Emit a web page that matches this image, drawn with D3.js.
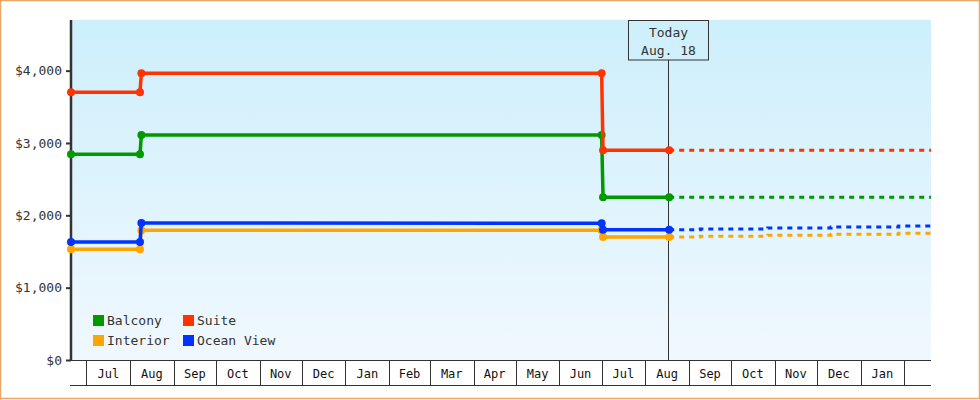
<!DOCTYPE html>
<html>
<head>
<meta charset="utf-8">
<script src="https://cdn.jsdelivr.net/npm/d3@7"></script>
<style>
body { margin: 0; background: #fff; }
svg { display: block; }
</style>
</head>
<body>
<div id="chart"></div>
<script>
// price history (solid) and forecast (dashed), one array per cabin
const historyDates = ["2023-06-20", "2023-08-08", "2023-08-09", "2024-07-01", "2024-07-02", "2024-08-18"];
const balconyHistory = [2845, 2845, 3110, 3110, 2250, 2250];
const suiteHistory = [3700, 3700, 3965, 3965, 2900, 2900];
const interiorHistory = [1530, 1530, 1795, 1795, 1700, 1700];
const oceanViewHistory = [1630, 1630, 1895, 1890, 1800, 1800];

const forecastDates = ["2024-08-18", "2024-09-09", "2024-10-27", "2024-12-11", "2025-01-28", "2025-02-20"];
const balconyForecast = [2250, 2250, 2250, 2250, 2250, 2250];
const suiteForecast = [2900, 2900, 2900, 2900, 2900, 2900];
const interiorForecast = [1700, 1712, 1725, 1738, 1752, 1752];
const oceanViewForecast = [1800, 1812, 1826, 1840, 1854, 1854];

const monthLabels = ["Jul", "Aug", "Sep", "Oct", "Nov", "Dec", "Jan", "Feb", "Mar", "Apr", "May", "Jun",
    "Jul", "Aug", "Sep", "Oct", "Nov", "Dec", "Jan"];
const yTicks = [0, 1000, 2000, 3000, 4000];
const todayDate = "2024-08-18";
const todayLabel = ["Today", "Aug. 18"];

const series = [
    { name: "Balcony", color: "#009900", hist: balconyHistory, fc: balconyForecast },
    { name: "Interior", color: "#ffa500", hist: interiorHistory, fc: interiorForecast },
    { name: "Ocean View", color: "#0033ff", hist: oceanViewHistory, fc: oceanViewForecast },
    { name: "Suite", color: "#ff3300", hist: suiteHistory, fc: suiteForecast }
];
const legendOrder = ["Balcony", "Suite", "Interior", "Ocean View"];

const W = 980, H = 400;
const margin = { top: 20, right: 49, bottom: 40, left: 71 };
const width = W - margin.left - margin.right,
    height = H - margin.top - margin.bottom;
const font = "'DejaVu Sans Mono', monospace";
const parse = d3.utcParse("%Y-%m-%d");

const svg = d3.select("#chart")
    .append("svg")
    .attr("width", W)
    .attr("height", H);

// outer border
svg.append("rect")
    .attr("x", 0.5).attr("y", 0.5)
    .attr("width", W - 1).attr("height", H - 2)
    .attr("fill", "none")
    .attr("stroke", "#e9a964")
    .attr("stroke-width", 1.5);

const defs = svg.append("defs");
const grad = defs.append("linearGradient")
    .attr("id", "bg").attr("x1", 0).attr("y1", 0).attr("x2", 0).attr("y2", 1);
grad.append("stop").attr("offset", "0%").attr("stop-color", "#cdeffc");
grad.append("stop").attr("offset", "100%").attr("stop-color", "#f0f8fe");

const g = svg.append("g")
    .attr("transform", `translate(${margin.left},${margin.top})`);

g.append("rect")
    .attr("width", width).attr("height", height)
    .attr("fill", "url(#bg)");

const x = d3.scaleUtc()
    .domain([parse("2023-06-20"), parse("2025-02-20")])
    .range([0, width]);
const y = d3.scaleLinear()
    .domain([0, 4700])
    .range([height, 0]);

// Y axis
const yAxis = g.append("g")
    .call(d3.axisLeft(y).tickValues(yTicks).tickFormat(d3.format("$,")).tickSize(5).tickPadding(4));
yAxis.select(".domain").remove();
yAxis.selectAll(".tick line").attr("stroke", "#333").attr("stroke-width", 2);
yAxis.selectAll(".tick text")
    .attr("font-family", font).attr("font-size", 13).attr("fill", "#333");
g.append("line")
    .attr("x1", 0).attr("x2", 0).attr("y1", 0).attr("y2", height + 1)
    .attr("stroke", "#333").attr("stroke-width", 2.5);

// X axis as a row of month cells
const monthStarts = d3.utcMonth.range(parse("2023-07-01"), parse("2025-02-02"));
const xAxis = g.append("g").attr("transform", `translate(0,${height})`);
xAxis.append("line")
    .attr("x1", 0).attr("x2", width).attr("y1", 0.5).attr("y2", 0.5)
    .attr("stroke", "#333");
xAxis.append("line")
    .attr("x1", -1).attr("x2", width).attr("y1", 25.5).attr("y2", 25.5)
    .attr("stroke", "#333");
xAxis.selectAll(".mline")
    .data(monthStarts)
    .join("line")
    .attr("class", "mline")
    .attr("x1", d => Math.round(x(d)) + 0.5).attr("x2", d => Math.round(x(d)) + 0.5)
    .attr("y1", 0).attr("y2", 25)
    .attr("stroke", "#333");
xAxis.selectAll(".mlabel")
    .data(monthLabels)
    .join("text")
    .attr("class", "mlabel")
    .attr("x", (d, i) => (x(monthStarts[i]) + x(monthStarts[i + 1])) / 2)
    .attr("y", 17.5)
    .attr("text-anchor", "middle")
    .attr("font-family", font).attr("font-size", 12)
    .attr("fill", "#111")
    .text(d => d);

// today marker
const tx = Math.round(x(parse(todayDate))) - 0.5;
g.append("line")
    .attr("x1", tx).attr("x2", tx).attr("y1", 40).attr("y2", height)
    .attr("stroke", "#333");
g.append("rect")
    .attr("x", tx - 40).attr("y", 0.5)
    .attr("width", 80).attr("height", 39.5)
    .attr("fill", "none").attr("stroke", "#333");
g.selectAll(".today")
    .data(todayLabel)
    .join("text")
    .attr("class", "today")
    .attr("x", tx).attr("y", (d, i) => 17 + i * 17.5)
    .attr("text-anchor", "middle")
    .attr("font-family", font).attr("font-size", 13)
    .attr("fill", "#333")
    .text(d => d);

// legend
const legend = g.append("g").attr("transform", "translate(22,295)");
legendOrder.forEach((name, i) => {
    const s = series.find(d => d.name === name);
    const lg = legend.append("g")
        .attr("transform", `translate(${(i % 2) * 90},${Math.floor(i / 2) * 20})`);
    lg.append("rect").attr("width", 11).attr("height", 11).attr("fill", s.color);
    lg.append("text")
        .attr("x", 14).attr("y", 9.5)
        .attr("font-family", font).attr("font-size", 13)
        .attr("fill", "#333")
        .text(name);
});

// lines
const histLine = d3.line()
    .x(d => x(d[0])).y(d => y(d[1]));
const fcLine = d3.line()
    .curve(d3.curveStepAfter)
    .x(d => x(d[0])).y(d => y(d[1]));

series.forEach(s => {
    const hist = historyDates.map((d, i) => [parse(d), s.hist[i]]);
    const fc = forecastDates.map((d, i) => [parse(d), s.fc[i]]);
    g.append("path")
        .datum(fc)
        .attr("d", fcLine)
        .attr("fill", "none")
        .attr("stroke", s.color)
        .attr("stroke-width", 3)
        .attr("stroke-dasharray", "5,5");
    g.append("path")
        .datum(hist)
        .attr("d", histLine)
        .attr("fill", "none")
        .attr("stroke", s.color)
        .attr("stroke-width", 3.5);
    g.selectAll(null)
        .data(hist)
        .join("circle")
        .attr("cx", d => x(d[0]))
        .attr("cy", d => y(d[1]))
        .attr("r", 4)
        .attr("fill", s.color);
});
</script>
</body>
</html>
